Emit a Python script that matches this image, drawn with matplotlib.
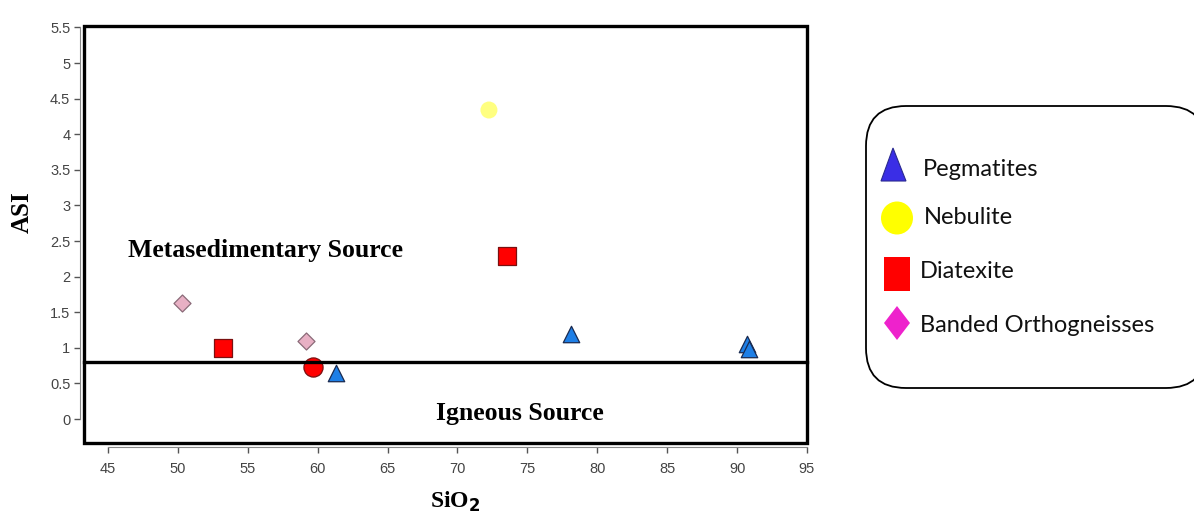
import matplotlib.pyplot as plt
from matplotlib.patches import FancyBboxPatch, Rectangle, Polygon, Ellipse

# ASI vs SiO2 for the sample groups
peg_sio2 = [61.3, 78.1, 90.7, 90.85]
peg_asi = [0.65, 1.19, 1.05, 0.98]

neb_sio2 = [72.25]
neb_asi = [4.34]

dia_sio2 = [53.2, 73.55]
dia_asi = [1.0, 2.29]

dia_circ_sio2 = [59.65]
dia_circ_asi = [0.73]

orth_sio2 = [50.3, 59.2]
orth_asi = [1.63, 1.1]

asi_boundary = 0.8
x_ticks = list(range(45, 100, 5))
y_ticks = [0, 0.5, 1, 1.5, 2, 2.5, 3, 3.5, 4, 4.5, 5, 5.5]
legend_names = ["Pegmatites", "Nebulite", "Diatexite", "Banded Orthogneisses"]

serif = ["Liberation Serif", "DejaVu Serif"]
sans = ["Liberation Sans", "DejaVu Sans"]

fig = plt.figure(figsize=(11.94, 5.18), dpi=100)
ax = fig.add_axes([80 / 1194, 1 - 446.8 / 518, 727 / 1194, 420.8 / 518])
ax.set_xlim(43, 95)
ax.set_ylim(-0.39, 5.52)

ax.scatter(orth_sio2, orth_asi, marker="D", s=75, c="#e8b0c4",
           edgecolors="#8a6a78", linewidths=0.9, zorder=3)
ax.scatter(dia_sio2, dia_asi, marker="s", s=170, c="#ff0000",
           edgecolors="#7a1010", linewidths=0.9, zorder=3)
ax.scatter(dia_circ_sio2, dia_circ_asi, marker="o", s=190, c="#ff0000",
           edgecolors="#7a1010", linewidths=0.9, zorder=3)
ax.scatter(neb_sio2, neb_asi, marker="o", s=150, c="#ffff80",
           edgecolors="none", zorder=3)
ax.scatter(peg_sio2, peg_asi, marker="^", s=140, c="#1e7fe6",
           edgecolors="#1a2a50", linewidths=0.9, zorder=3)

# boundary box and the igneous / metasedimentary divide
ax.add_patch(Rectangle((43.28, -0.34), 95 - 43.28, 5.52 + 0.34, fill=False,
                       edgecolor="black", linewidth=2.4, clip_on=False, zorder=4))
ax.plot([43.28, 95], [asi_boundary, asi_boundary], color="black",
        linewidth=2.4, clip_on=False, zorder=4)

ax.text(56.27, 2.36, "Metasedimentary Source", family=serif, fontsize=18.5,
        fontweight="bold", ha="center", va="center")
ax.text(74.43, 0.08, "Igneous Source", family=serif, fontsize=18.5,
        fontweight="bold", ha="center", va="center")

for side in ["top", "right"]:
    ax.spines[side].set_visible(False)
ax.spines["left"].set_color("#888888")
ax.spines["bottom"].set_color("#888888")
ax.spines["left"].set_bounds(0, 5.5)
ax.spines["bottom"].set_bounds(45, 95)
ax.set_xticks(x_ticks)
ax.set_yticks(y_ticks)
ax.set_yticklabels([f"{v:g}" for v in y_ticks])
ax.tick_params(axis="both", colors="#555555", labelsize=10.5, length=4, width=1,
               labelcolor="#444444")
ax.tick_params(axis="x", pad=7)
ax.tick_params(axis="y", pad=3)
for lab in ax.get_xticklabels() + ax.get_yticklabels():
    lab.set_family(sans)

fig.text(22 / 1194, 1 - 212 / 518, "ASI", family=serif, fontsize=18,
         fontweight="bold", rotation=90, ha="center", va="center")
fig.text(455 / 1194, 1 - 502 / 518, "SiO$_\\mathbf{2}$", family=serif,
         fontsize=17, fontweight="bold", ha="center", va="center")

# legend panel drawn in pixel space
lg = fig.add_axes([0, 0, 1, 1], zorder=5)
lg.set_xlim(0, 1194)
lg.set_ylim(518, 0)
lg.axis("off")
lg.patch.set_alpha(0)
lg.add_patch(FancyBboxPatch((866 + 40, 106 + 40), 340 - 80, 282 - 80,
                            boxstyle="round,pad=40", facecolor="white",
                            edgecolor="black", linewidth=1.3, clip_on=False))
lg.add_patch(Polygon([[881, 181], [893, 148], [906, 181]], closed=True,
                     facecolor="#3a2ee6", edgecolor="#2a2a90", linewidth=0.8))
lg.add_patch(Ellipse((897, 218), 32, 33, facecolor="#ffff00", edgecolor="none"))
lg.add_patch(Rectangle((884, 257), 26, 34, facecolor="#ff0000", edgecolor="none"))
lg.add_patch(Polygon([[884, 323], [897, 306], [910, 323], [897, 340]], closed=True,
                     facecolor="#ee22cc", edgecolor="none"))
label_pos = [(923, 169), (924, 217), (920, 272), (920, 325)]
for name, (px, py) in zip(legend_names, label_pos):
    lg.text(px, py, name, family=["Lato", "DejaVu Sans"], fontsize=17,
            ha="left", va="center", color="#111111")

fig.savefig("out.png", dpi=100)
